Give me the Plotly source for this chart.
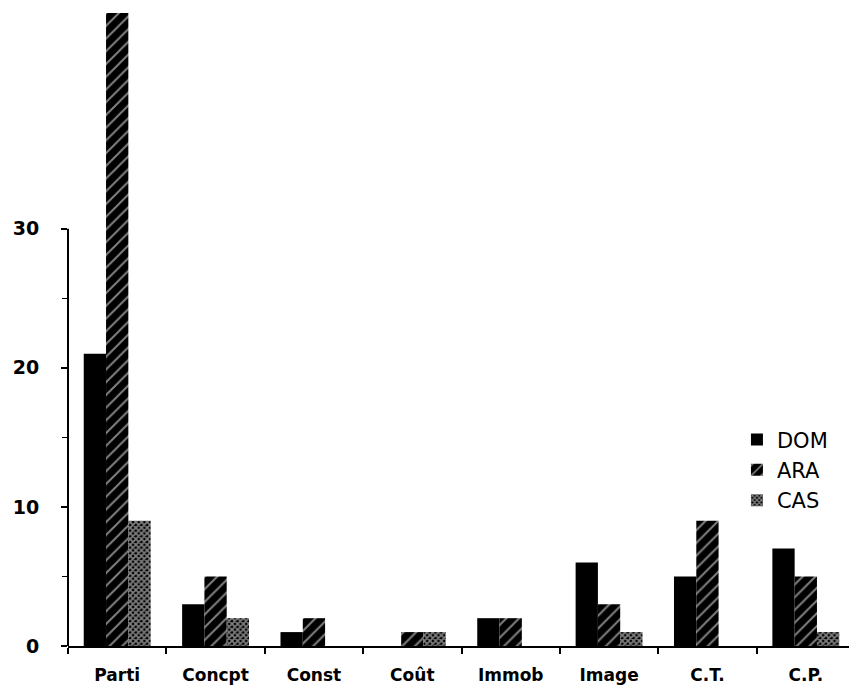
import plotly.graph_objects as go

categories = ["Parti", "Concpt", "Const", "Coût", "Immob", "Image", "C.T.", "C.P."]
dom = [21, 3, 1, 0, 2, 6, 5, 7]
ara = [46, 5, 2, 1, 2, 3, 9, 5]
cas = [9, 2, 0, 1, 0, 1, 0, 1]
y_ticks = [0, 10, 20, 30]
y_minor = [5, 15, 25]

FONT = "DejaVu Sans"

fig = go.Figure()
fig.add_trace(go.Bar(name="DOM", x=categories, y=dom,
                     marker=dict(color="black", line=dict(width=0))))
fig.add_trace(go.Bar(name="ARA", x=categories, y=ara,
                     marker=dict(color="black", line=dict(width=0),
                                 pattern=dict(shape="/", bgcolor="black", fgcolor="white",
                                              size=9, solidity=0.22, fillmode="overlay"))))
fig.add_trace(go.Bar(name="CAS", x=categories, y=cas,
                     marker=dict(color="black", line=dict(width=0),
                                 pattern=dict(shape="x", bgcolor="black", fgcolor="white",
                                              size=4, solidity=0.65, fillmode="overlay"))))

fig.update_layout(
    width=849, height=684,
    margin=dict(l=60, r=2, t=5, b=46),
    paper_bgcolor="white", plot_bgcolor="white",
    barmode="group", bargap=0.32, bargroupgap=0,
    font=dict(family=FONT, color="black", size=18),
    showlegend=True,
    legend=dict(x=0.85, y=0.358, xanchor="left", yanchor="top",
                font=dict(family=FONT, size=21, color="black"),
                bgcolor="rgba(0,0,0,0)", tracegroupgap=0, itemsizing="constant"),
)
fig.update_xaxes(
    type="category", showline=True, linecolor="black", linewidth=2,
    ticks="outside", tickson="boundaries", ticklen=6, tickwidth=2, tickcolor="black",
    showgrid=False, zeroline=False, ticklabelstandoff=13,
    tickfont=dict(family=FONT, size=17, color="black", weight="bold"),
)
fig.update_yaxes(
    range=[0, 45.5], showline=False, showgrid=False, zeroline=False,
    tickmode="array", tickvals=y_ticks, ticktext=[str(v) for v in y_ticks],
    ticks="outside", ticklen=6, tickwidth=2, tickcolor="black",
    ticklabelstandoff=18,
    minor=dict(tickmode="array", tickvals=y_minor, ticks="outside", ticklen=5,
               tickwidth=1, tickcolor="black"),
    tickfont=dict(family=FONT, size=19, color="black", weight="bold"),
)
fig.add_shape(type="line", xref="paper", yref="y", x0=0, x1=0, y0=0, y1=max(y_ticks),
              line=dict(color="black", width=2))
fig.add_shape(type="line", xref="paper", yref="y", x0=-0.008, x1=0, y0=0, y1=0,
              line=dict(color="black", width=2))

fig.write_html("out.html")
